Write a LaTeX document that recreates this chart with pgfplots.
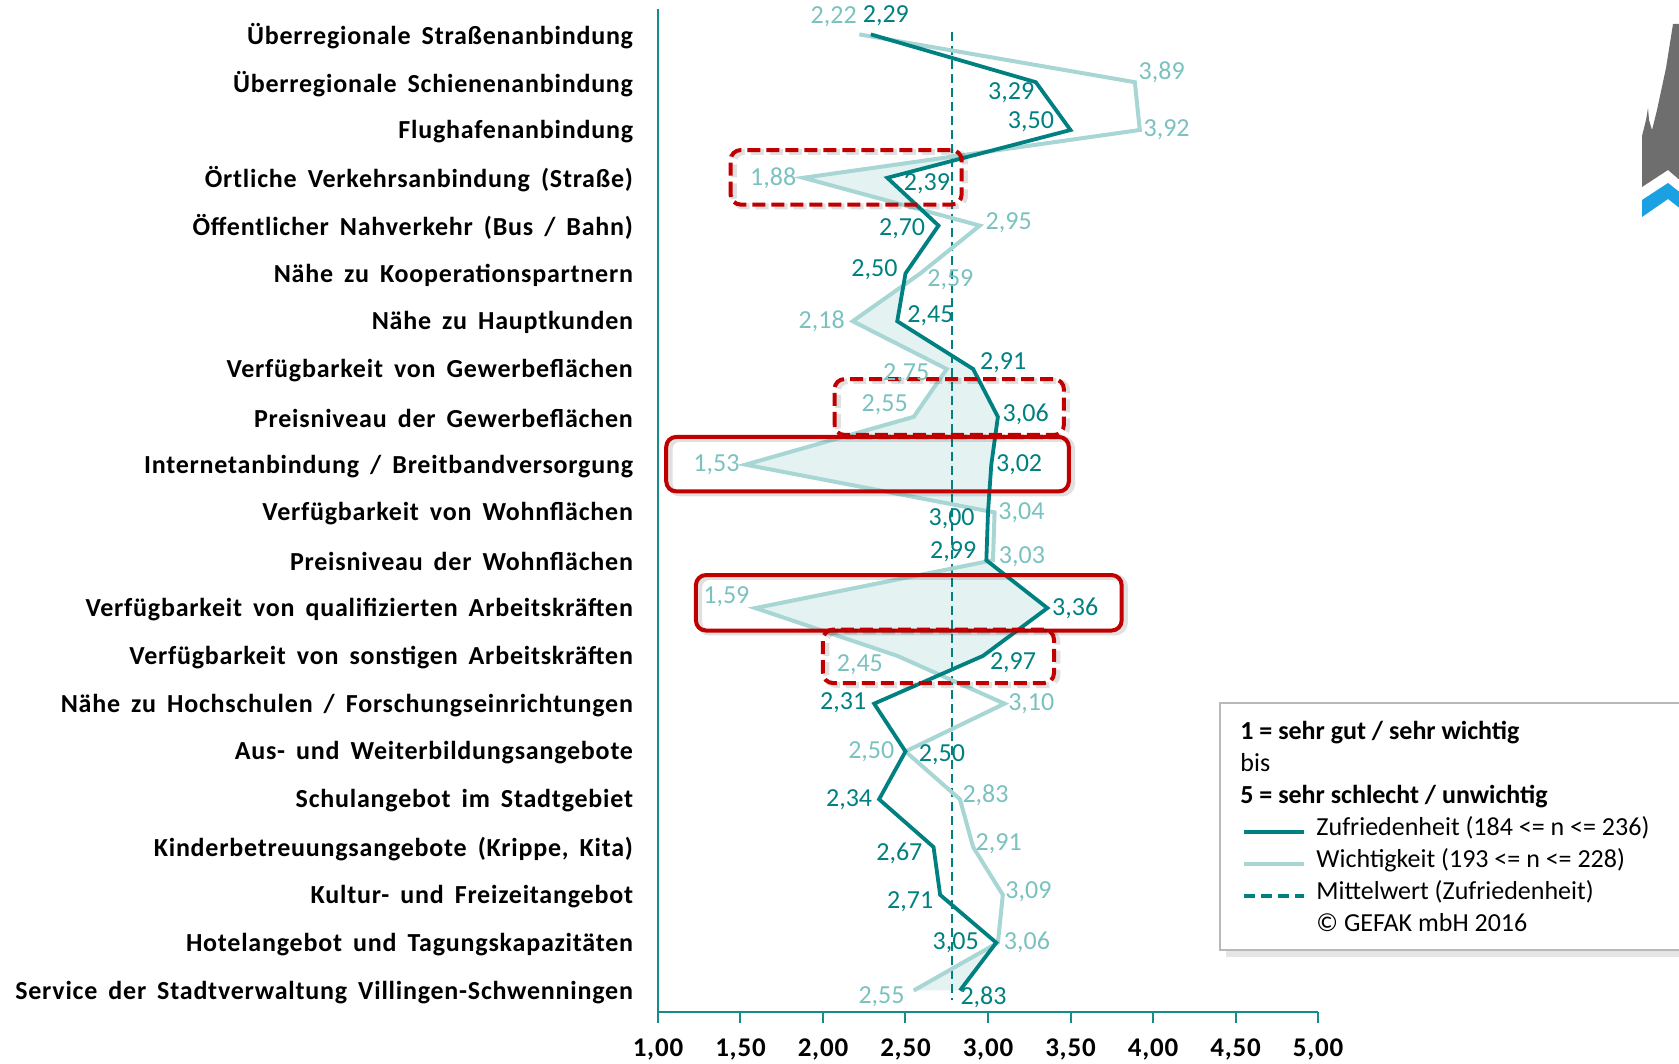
\documentclass[border=0pt]{standalone}
\usepackage{fontspec}
\setmainfont{Carlito}
\newfontfamily\lab[LetterSpace=3]{Carlito}
\usepackage{pgfplots}
\pgfplotsset{compat=1.18}
\usepackage{pgfplotstable}

\definecolor{zcol}{RGB}{0,128,128}
\definecolor{wcol}{RGB}{168,214,212}
\definecolor{wtxt}{RGB}{122,194,192}
\definecolor{fillc}{RGB}{228,242,242}
\definecolor{axcol}{RGB}{20,140,140}
\definecolor{redc}{RGB}{192,0,0}
\definecolor{logogray}{RGB}{110,110,110}
\definecolor{logoblue}{RGB}{27,161,226}

\newcommand{\f}{\fontsize{13pt}{15.6pt}\selectfont}
\newcommand{\labfont}{\lab\bfseries\f\spaceskip=5.5pt plus 1pt\relax}

% row: position from top; z = Zufriedenheit, w = Wichtigkeit; dx/dy = label offsets (pt)
\pgfplotstableread{
row z w zdx zdy wdx wdy
1 2.29 2.22 7.5 9.1 -12.8 8.6
2 3.29 3.89 -12.3 -5.4 13.4 4.8
3 3.50 3.92 -19.8 4.3 13.4 0
4 2.39 1.88 19.8 -3.2 -15.0 0
5 2.70 2.95 -18.2 -1.6 14.5 1.6
6 2.50 2.59 -15.5 1.6 15.0 -3.2
7 2.45 2.18 16.6 2.7 -15.5 0
8 2.91 2.75 15.0 3.2 -20.3 -2.1
9 3.06 2.55 13.9 1.1 -14.5 5.9
10 3.02 1.53 13.9 0 -14.5 0
11 3.00 3.04 -18.2 -3.2 13.4 0
12 2.99 3.03 -16.6 4.3 14.5 1.6
13 3.36 1.59 13.9 0 -14.5 5.9
14 2.97 2.45 15.0 -3.2 -18.7 -4.3
15 2.31 3.10 -15.5 0.5 13.4 0
16 2.50 2.50 18.2 -1.6 -17.1 0
17 2.34 2.83 -15.0 0 12.8 2.1
18 2.67 2.91 -17.1 -3.2 12.8 1.6
19 2.71 3.09 -15.0 -3.2 12.8 1.6
20 3.05 3.06 -20.3 0 14.5 0
21 2.83 2.55 11.8 -3.2 -16.1 -3.2
}\data

\tikzset{
  zline/.style={draw=zcol, line width=1.9pt},
  wline/.style={draw=wcol, line width=2pt},
  meanline/.style={draw=zcol, line width=1.1pt, dash pattern=on 4.3pt off 2.7pt},
  redbox/.style={draw=redc, line width=2pt, rounded corners=5pt},
  redshadow/.style={draw=black, opacity=0.12, line width=3pt, rounded corners=5pt},
}

\begin{document}
\begin{tikzpicture}
\useasboundingbox (-329pt,-26pt) rectangle (510.5pt,506pt);

% logo, cut at the right edge
\begin{scope}[x=1pt, y=1pt]
\fill[logogray] (507.5,494) -- (504,472) -- (499.5,451) -- (497,441) -- (495.5,446) -- (495,452)
  -- (494,446) -- (492,438) -- (492,412.5) -- (505,421) -- (512,415) -- (512,494) -- cycle;
\fill[logoblue] (492,406) -- (505,414.5) -- (512,409) -- (512,401) -- (505,406.5) -- (492,397.5) -- cycle;
\end{scope}

% legend frame
\fill[black,opacity=0.10] (284pt,27.5pt) rectangle (520pt,151pt);
\filldraw[fill=white, draw=gray!55, line width=0.8pt] (281pt,31pt) rectangle (520pt,154.5pt);

\begin{axis}[
  at={(0,0)}, anchor=south west, scale only axis,
  width=330pt, height=501.7pt,
  xmin=1, xmax=5, ymin=0.55, ymax=21.54,
  clip=false,
  axis x line*=bottom, axis y line*=left,
  axis line style={axcol, line width=1.1pt, -},
  xtick={1,1.5,2,2.5,3,3.5,4,4.5,5},
  xtick align=outside,
  major tick length=5.4pt,
  xtick style={axcol, line width=1pt},
  /pgf/number format/.cd, fixed, fixed zerofill, precision=2, use comma, assume math mode=true,
  /pgfplots/.cd,
  xticklabel style={font=\lab\bfseries\fontsize{13.5pt}{16pt}\selectfont, inner sep=0pt, anchor=north, yshift=-8pt},
  ytick={1,...,21},
  ytick style={draw=none},
  yticklabels={
    {Service der Stadtverwaltung Villingen-Schwenningen},
    {Hotelangebot und Tagungskapazitäten},
    {Kultur- und Freizeitangebot},
    {Kinderbetreuungsangebote (Krippe, Kita)},
    {Schulangebot im Stadtgebiet},
    {Aus- und Weiterbildungsangebote},
    {Nähe zu Hochschulen / Forschungseinrichtungen},
    {Verfügbarkeit von sonstigen Arbeitskräften},
    {Verfügbarkeit von qualifizierten Arbeitskräften},
    {Preisniveau der Wohnflächen},
    {Verfügbarkeit von Wohnflächen},
    {Internetanbindung / Breitbandversorgung},
    {Preisniveau der Gewerbeflächen},
    {Verfügbarkeit von Gewerbeflächen},
    {Nähe zu Hauptkunden},
    {Nähe zu Kooperationspartnern},
    {Öffentlicher Nahverkehr (Bus / Bahn)},
    {Örtliche Verkehrsanbindung (Straße)},
    {Flughafenanbindung},
    {Überregionale Schienenanbindung},
    {Überregionale Straßenanbindung}},
  yticklabel style={font=\labfont, inner sep=0pt, anchor=east, xshift=-12.3pt, yshift=-0.8pt},
  legend image code/.code={\draw[#1] (0pt,0pt) -- (30pt,0pt); \path (35pt,0pt);},
  legend cell align=left,
  legend style={draw=none, fill=none, font=\f, at={(0.885,0.196)}, anchor=north west,
    inner sep=0pt, row sep=0pt,
    nodes={inner sep=0pt, text height=10pt, text depth=6pt}},
]

% light fill where importance rates better than satisfaction: right of W, then white right of Z
\addplot[fill=fillc, draw=none, forget plot] table[x=w, y expr=22-\thisrow{row}] {\data}
  -- (axis cs:4,1) -- (axis cs:4,21) -- cycle;
\addplot[fill=white, draw=none, forget plot] table[x=z, y expr=22-\thisrow{row}] {\data}
  -- (axis cs:2.83,0.9) -- (axis cs:4.2,0.9) -- (axis cs:4.2,21.1) -- (axis cs:2.29,21.1) -- cycle;

% mean of satisfaction
\addplot[meanline, forget plot] coordinates {(2.78,21.04) (2.78,0.8)};

% Wichtigkeit
\addplot[wline, forget plot,
  nodes near coords, point meta=x,
  visualization depends on={\thisrow{wdx}\as\wdx},
  visualization depends on={\thisrow{wdy}\as\wdy},
  every node near coord/.append style={anchor=center, inner sep=0pt, font=\f, text=wtxt,
    xshift=\wdx pt, yshift=\wdy pt}]
  table[x=w, y expr=22-\thisrow{row}] {\data};

% Zufriedenheit
\addplot[zline, forget plot,
  nodes near coords, point meta=x,
  visualization depends on={\thisrow{zdx}\as\zdx},
  visualization depends on={\thisrow{zdy}\as\zdy},
  every node near coord/.append style={anchor=center, inner sep=0pt, font=\f, text=zcol,
    xshift=\zdx pt, yshift=\zdy pt}]
  table[x=z, y expr=22-\thisrow{row}] {\data};

% highlight frames
\draw[redshadow, dash pattern=on 6.5pt off 3pt] (axis cs:1.46,17.40) rectangle (axis cs:2.86,18.54);
\draw[redbox, dash pattern=on 6.5pt off 3pt] (axis cs:1.44,17.44) rectangle (axis cs:2.84,18.58);
\draw[redshadow, dash pattern=on 6.5pt off 3pt] (axis cs:2.09,12.58) rectangle (axis cs:3.48,13.75);
\draw[redbox, dash pattern=on 6.5pt off 3pt] (axis cs:2.07,12.62) rectangle (axis cs:3.46,13.79);
\draw[redshadow] (axis cs:1.07,11.40) rectangle (axis cs:3.51,12.54);
\draw[redbox] (axis cs:1.05,11.44) rectangle (axis cs:3.49,12.58);
\draw[redshadow] (axis cs:1.25,8.49) rectangle (axis cs:3.83,9.65);
\draw[redbox] (axis cs:1.23,8.53) rectangle (axis cs:3.81,9.69);
\draw[redshadow, dash pattern=on 6.5pt off 3pt] (axis cs:2.02,7.39) rectangle (axis cs:3.42,8.51);
\draw[redbox, dash pattern=on 6.5pt off 3pt] (axis cs:2.00,7.43) rectangle (axis cs:3.40,8.55);

\addlegendimage{zline}
\addlegendentry{Zufriedenheit (184 <= n <= 236)}
\addlegendimage{wline}
\addlegendentry{Wichtigkeit (193 <= n <= 228)}
\addlegendimage{meanline, line width=1.8pt, dash pattern=on 5.5pt off 3pt}
\addlegendentry{Mittelwert (Zufriedenheit)}
\addlegendimage{empty legend}
\addlegendentry{© GEFAK mbH 2016}
\end{axis}

% legend header
\node[anchor=base west, font=\bfseries\f, inner sep=0pt] at (291pt,136pt) {1 = sehr gut / sehr wichtig};
\node[anchor=base west, font=\f, inner sep=0pt] at (291pt,120pt) {bis};
\node[anchor=base west, font=\bfseries\f, inner sep=0pt] at (291pt,104pt) {5 = sehr schlecht / unwichtig};
\end{tikzpicture}
\end{document}
